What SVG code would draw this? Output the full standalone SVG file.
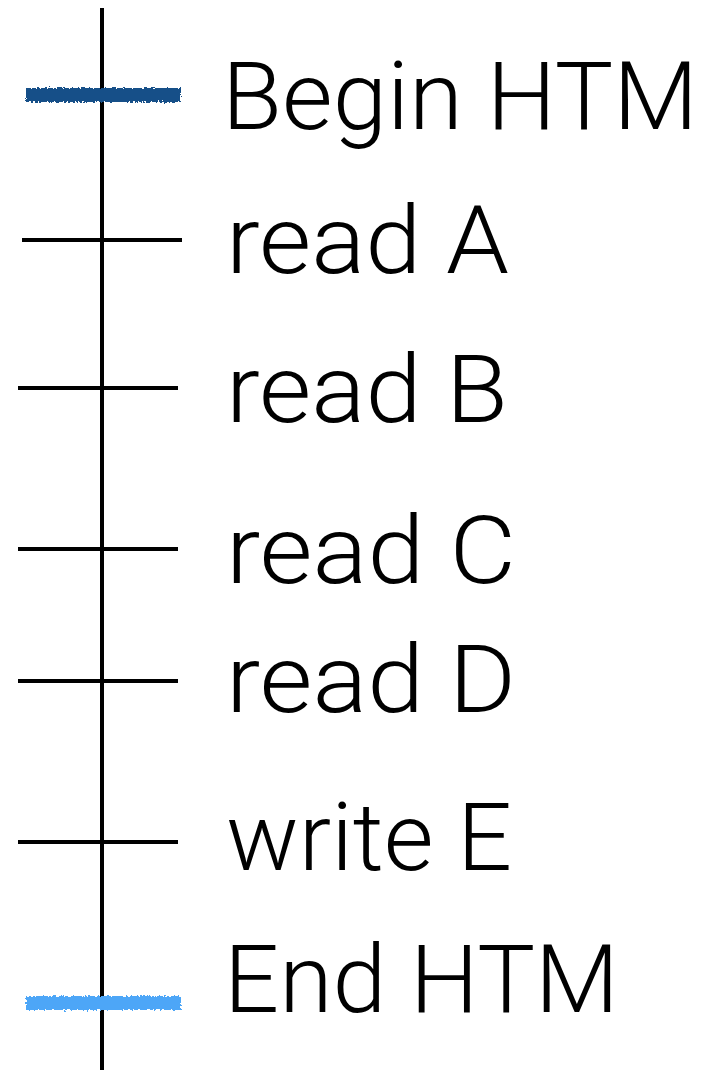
<svg xmlns="http://www.w3.org/2000/svg" width="708" height="1070" viewBox="0 0 708 1070">
<style>
.lbl{font-family:Roboto,"Liberation Sans",Arial,sans-serif;font-weight:300;font-size:94px;fill:#000}
.tick{stroke:#000;stroke-width:4;fill:none}
.chalk{stroke-width:14;fill:none;filter:url(#rough)}
</style>
<defs>
<filter id="rough" filterUnits="userSpaceOnUse" x="0" y="0" width="708" height="1070">
<feTurbulence type="fractalNoise" baseFrequency="0.45" numOctaves="2" seed="3" result="n"/>
<feDisplacementMap in="SourceGraphic" in2="n" scale="5" xChannelSelector="R" yChannelSelector="G"/>
</filter>
</defs>
<g id="connectors">
<line id="timeline" x1="102" y1="8" x2="102" y2="1070" class="tick"/>
</g>
<g id="begin"><line x1="26" y1="95" x2="181" y2="95" class="chalk" stroke="#174f88"/><text x="222" y="129" class="lbl" textLength="476" lengthAdjust="spacingAndGlyphs">Begin HTM</text></g>
<g id="readA"><line x1="22" y1="240" x2="182" y2="240" class="tick"/><text x="226" y="273" class="lbl" textLength="283" lengthAdjust="spacingAndGlyphs">read A</text></g>
<g id="readB"><line x1="18" y1="388" x2="178" y2="388" class="tick"/><text x="226" y="422" class="lbl" textLength="282" lengthAdjust="spacingAndGlyphs">read B</text></g>
<g id="readC"><line x1="18" y1="549" x2="178" y2="549" class="tick"/><text x="226" y="583" class="lbl" textLength="290" lengthAdjust="spacingAndGlyphs">read C</text></g>
<g id="readD"><line x1="18" y1="681" x2="178" y2="681" class="tick"/><text x="226" y="712" class="lbl" textLength="290" lengthAdjust="spacingAndGlyphs">read D</text></g>
<g id="writeE"><line x1="18" y1="842" x2="178" y2="842" class="tick"/><text x="226" y="870" class="lbl" textLength="286" lengthAdjust="spacingAndGlyphs">write E</text></g>
<g id="end"><line x1="26" y1="1003" x2="181" y2="1003" class="chalk" stroke="#4ea6f7"/><text x="224" y="1012" class="lbl" textLength="395" lengthAdjust="spacingAndGlyphs">End HTM</text></g>
</svg>
